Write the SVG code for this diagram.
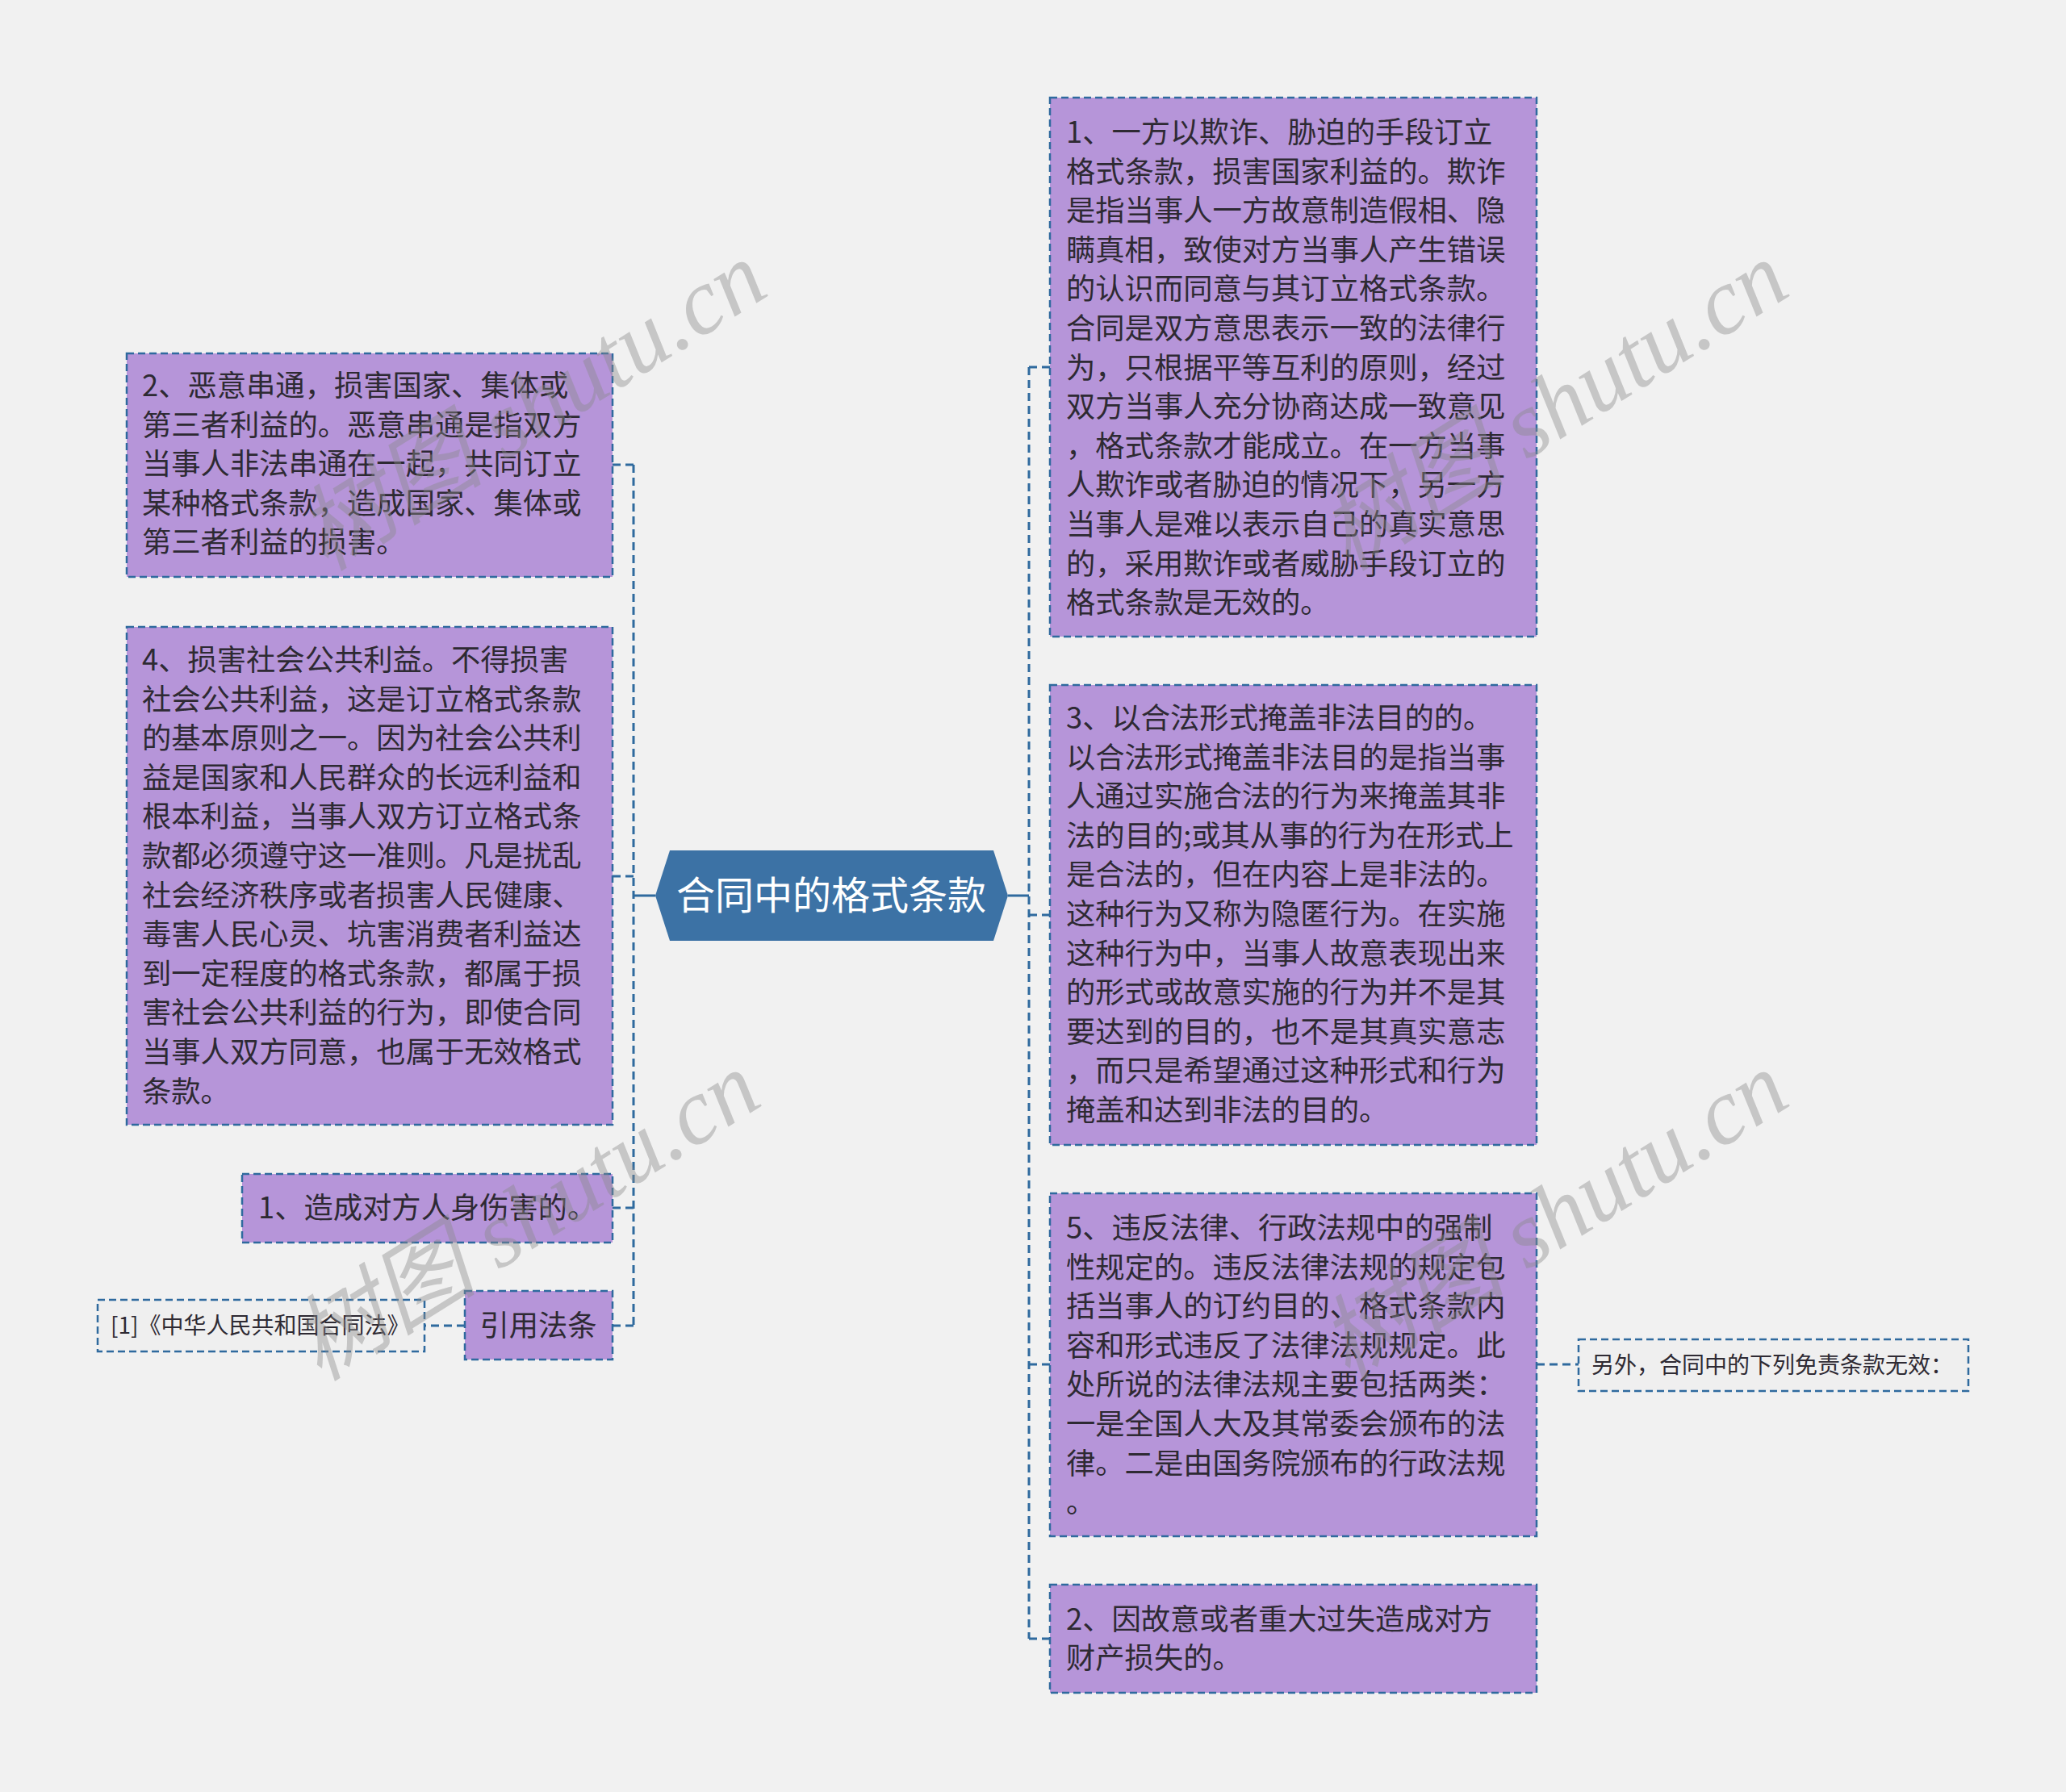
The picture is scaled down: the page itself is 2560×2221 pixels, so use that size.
<svg xmlns="http://www.w3.org/2000/svg" width="2560" height="2221" viewBox="0 0 2560 2221">
<style>
.bg{fill:#f1f1f1}
.node{fill:#b695d9;stroke:#2f6a9e;stroke-width:2.5;stroke-dasharray:9 5}
.plain{fill:#efefef;stroke:#2f6a9e;stroke-width:2.5;stroke-dasharray:9 5}
.t{font-family:"Noto Sans CJK SC","Noto Sans",sans-serif;font-size:36.3px;fill:#2e2a33}
.ts{font-family:"Noto Sans CJK SC","Noto Sans",sans-serif;font-size:28px;fill:#2e2a33}
.tc{font-family:"Noto Sans CJK SC","Noto Sans",sans-serif;font-size:48px;fill:#ffffff}
.c{fill:none;stroke:#2f6a9e;stroke-width:3;stroke-dasharray:10 6}
.cs{fill:none;stroke:#2f6a9e;stroke-width:3}
.wm{font-family:"Liberation Serif","Noto Sans CJK SC",serif;font-style:italic;font-size:116px;fill:#8a8a8a;fill-opacity:0.42}
</style>
<rect class="bg" x="0" y="0" width="2560" height="2221"/>

<g id="connectors">
<path class="cs" d="M812,1110 H785"/>
<path class="c" d="M785,576 V1643"/>
<path class="c" d="M785,576 H759 M785,1086 H759 M785,1497 H759 M785,1643 H759"/>
<path class="c" d="M576,1643 H526"/>
<path class="cs" d="M1249,1110 H1275"/>
<path class="c" d="M1275,455 V2031"/>
<path class="c" d="M1275,455 H1301 M1275,1134 H1301 M1275,1691 H1301 M1275,2031 H1301"/>
<path class="c" d="M1904,1691 H1956"/>
</g>

<g id="center">
<polygon points="812,1110 830,1054 1231,1054 1249,1110 1231,1166 830,1166" fill="#3c72a5"/>
<text class="tc" x="1030" y="1127" text-anchor="middle">合同中的格式条款</text>
</g>

<g id="n_left1">
<rect class="node" x="157" y="438" width="602" height="277"/>
<text class="t" x="176" y="491">2、恶意串通，损害国家、集体或</text>
<text class="t" x="176" y="540">第三者利益的。恶意串通是指双方</text>
<text class="t" x="176" y="588">当事人非法串通在一起，共同订立</text>
<text class="t" x="176" y="637">某种格式条款，造成国家、集体或</text>
<text class="t" x="176" y="685">第三者利益的损害。</text>
</g>

<g id="n_left2">
<rect class="node" x="157" y="777" width="602" height="617"/>
<text class="t" x="176" y="831">4、损害社会公共利益。不得损害</text>
<text class="t" x="176" y="880">社会公共利益，这是订立格式条款</text>
<text class="t" x="176" y="928">的基本原则之一。因为社会公共利</text>
<text class="t" x="176" y="977">益是国家和人民群众的长远利益和</text>
<text class="t" x="176" y="1025">根本利益，当事人双方订立格式条</text>
<text class="t" x="176" y="1074">款都必须遵守这一准则。凡是扰乱</text>
<text class="t" x="176" y="1123">社会经济秩序或者损害人民健康、</text>
<text class="t" x="176" y="1171">毒害人民心灵、坑害消费者利益达</text>
<text class="t" x="176" y="1220">到一定程度的格式条款，都属于损</text>
<text class="t" x="176" y="1268">害社会公共利益的行为，即使合同</text>
<text class="t" x="176" y="1317">当事人双方同意，也属于无效格式</text>
<text class="t" x="176" y="1366">条款。</text>
</g>

<g id="n_left3">
<rect class="node" x="300" y="1455" width="459" height="85"/>
<text class="t" x="320" y="1510">1、造成对方人身伤害的。</text>
</g>

<g id="n_left4">
<rect class="node" x="576" y="1600" width="183" height="85"/>
<text class="t" x="667" y="1656" text-anchor="middle">引用法条</text>
</g>

<g id="n_left5">
<rect class="plain" x="121" y="1611" width="405" height="64"/>
<text class="ts" x="137" y="1653">[1]《中华人民共和国合同法》</text>
</g>

<g id="n_right1">
<rect class="node" x="1301" y="121" width="603" height="668"/>
<text class="t" x="1321" y="177">1、一方以欺诈、胁迫的手段订立</text>
<text class="t" x="1321" y="226">格式条款，损害国家利益的。欺诈</text>
<text class="t" x="1321" y="274">是指当事人一方故意制造假相、隐</text>
<text class="t" x="1321" y="323">瞒真相，致使对方当事人产生错误</text>
<text class="t" x="1321" y="371">的认识而同意与其订立格式条款。</text>
<text class="t" x="1321" y="420">合同是双方意思表示一致的法律行</text>
<text class="t" x="1321" y="469">为，只根据平等互利的原则，经过</text>
<text class="t" x="1321" y="517">双方当事人充分协商达成一致意见</text>
<text class="t" x="1321" y="566">，格式条款才能成立。在一方当事</text>
<text class="t" x="1321" y="614">人欺诈或者胁迫的情况下，另一方</text>
<text class="t" x="1321" y="663">当事人是难以表示自己的真实意思</text>
<text class="t" x="1321" y="712">的，采用欺诈或者威胁手段订立的</text>
<text class="t" x="1321" y="760">格式条款是无效的。</text>
</g>

<g id="n_right2">
<rect class="node" x="1301" y="849" width="603" height="570"/>
<text class="t" x="1321" y="903">3、以合法形式掩盖非法目的的。</text>
<text class="t" x="1321" y="952">以合法形式掩盖非法目的是指当事</text>
<text class="t" x="1321" y="1000">人通过实施合法的行为来掩盖其非</text>
<text class="t" x="1321" y="1049">法的目的;或其从事的行为在形式上</text>
<text class="t" x="1321" y="1097">是合法的，但在内容上是非法的。</text>
<text class="t" x="1321" y="1146">这种行为又称为隐匿行为。在实施</text>
<text class="t" x="1321" y="1195">这种行为中，当事人故意表现出来</text>
<text class="t" x="1321" y="1243">的形式或故意实施的行为并不是其</text>
<text class="t" x="1321" y="1292">要达到的目的，也不是其真实意志</text>
<text class="t" x="1321" y="1340">，而只是希望通过这种形式和行为</text>
<text class="t" x="1321" y="1389">掩盖和达到非法的目的。</text>
</g>

<g id="n_right3">
<rect class="node" x="1301" y="1479" width="603" height="425"/>
<text class="t" x="1321" y="1535">5、违反法律、行政法规中的强制</text>
<text class="t" x="1321" y="1584">性规定的。违反法律法规的规定包</text>
<text class="t" x="1321" y="1632">括当事人的订约目的、格式条款内</text>
<text class="t" x="1321" y="1681">容和形式违反了法律法规规定。此</text>
<text class="t" x="1321" y="1729">处所说的法律法规主要包括两类：</text>
<text class="t" x="1321" y="1778">一是全国人大及其常委会颁布的法</text>
<text class="t" x="1321" y="1827">律。二是由国务院颁布的行政法规</text>
<text class="t" x="1321" y="1875">。</text>
</g>

<g id="n_right4">
<rect class="node" x="1301" y="1964" width="603" height="134"/>
<text class="t" x="1321" y="2020">2、因故意或者重大过失造成对方</text>
<text class="t" x="1321" y="2068">财产损失的。</text>
</g>

<g id="n_right5">
<rect class="plain" x="1956" y="1660" width="483" height="64"/>
<text class="ts" x="1972" y="1702">另外，合同中的下列免责条款无效：</text>
</g>

<g id="watermarks">
<text class="wm" transform="translate(661,506) rotate(-32)" text-anchor="middle" y="36">树图 shutu.cn</text>
<text class="wm" transform="translate(1927,506) rotate(-32)" text-anchor="middle" y="36">树图 shutu.cn</text>
<text class="wm" transform="translate(653,1510) rotate(-32)" text-anchor="middle" y="36">树图 shutu.cn</text>
<text class="wm" transform="translate(1927,1510) rotate(-32)" text-anchor="middle" y="36">树图 shutu.cn</text>
</g>
</svg>
